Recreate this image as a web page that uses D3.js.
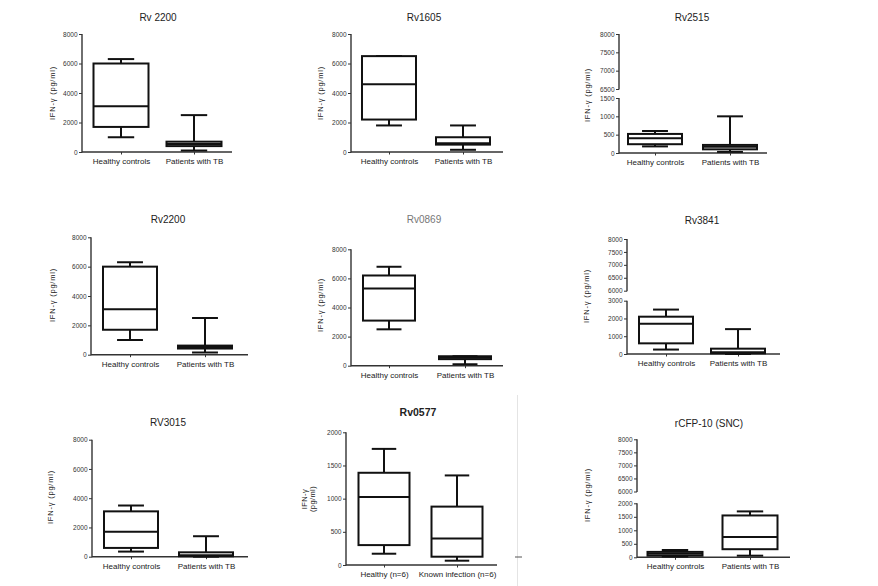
<!DOCTYPE html>
<html><head><meta charset="utf-8">
<script src="https://cdn.jsdelivr.net/npm/d3@7/dist/d3.min.js"></script>
<style>
body{margin:0;background:#fff}
svg{display:block}
text{font-family:Arial,"Liberation Sans",sans-serif;fill:#222}
</style>
</head><body><svg id="c" width="878" height="586"></svg>
<script>
// ---------- DATA ----------
const titles = ["Rv 2200","Rv1605","Rv2515","Rv2200","Rv0869","Rv3841","RV3015","Rv0577","rCFP-10 (SNC)"];
const groupsTB = ["Healthy controls","Patients with TB"];
const groupsRv0577 = ["Healthy (n=6)","Known infection (n=6)"];
const yLabel = "IFN-\u03b3 (pg/ml)";
const yLabelRv0577 = ["IFN-\u03b3","(pg/ml)"];

// box stats per group: [min, q1, median, q3, max]
const statsRv2200a = [[1000,1700,3100,6000,6300],[100,400,550,700,2500]];
const statsRv1605  = [[1800,2200,4600,6500,6500],[150,500,600,1000,1800]];
const statsRv2515  = [[180,240,400,520,600],[30,100,170,220,1000]];
const statsRv2200b = [[1000,1700,3100,6000,6300],[150,420,520,620,2500]];
const statsRv0869  = [[2500,3100,5300,6200,6800],[100,450,550,650,650]];
const statsRv3841  = [[250,600,1700,2100,2500],[0,40,100,300,1400]];
const statsRV3015  = [[350,600,1700,3100,3500],[0,30,100,300,1400]];
const statsRv0577  = [[170,300,1025,1390,1750],[65,125,400,880,1350]];
const statsCFP10   = [[30,60,130,200,270],[60,300,750,1550,1700]];

// y tick values
const ticks8000 = [0,2000,4000,6000,8000];
const ticks2000 = [0,500,1000,1500,2000];
const ticksRv2515 = [0,500,1000,1500,6500,7000,7500,8000];
const ticksRv3841 = [0,1000,2000,3000,6000,6500,7000,7500,8000];
const ticksCFP10 = [0,500,1000,1500,2000,6000,6500,7000,7500,8000];
// broken-axis domains [0, lowerTop, upperBottom, top]
const domainRv2515 = [0,1500,6500,8000];
const domainRv3841 = [0,3000,6000,8000];
const domainCFP10  = [0,2000,6000,8000];

// ---------- LAYOUT (positions only) ----------
const panels = [
  {title:titles[0], groups:groupsTB, stats:statsRv2200a, ticks:ticks8000, domain:[0,8000], range:[152,34],
   ax:82, xEnd:232, centers:[121,194], bw:55, tx:158, ty:21, lx:55, ly:93},
  {title:titles[1], groups:groupsTB, stats:statsRv1605, ticks:ticks8000, domain:[0,8000], range:[152,34],
   ax:351, xEnd:503, centers:[389,463], bw:54, tx:424, ty:21, lx:323, ly:93},
  {title:titles[2], groups:groupsTB, stats:statsRv2515, ticks:ticksRv2515, domain:domainRv2515, range:[153,98,89,34],
   ax:619, xEnd:767, centers:[655,730], bw:54, tx:692, ty:21, lx:590, ly:95},
  {title:titles[3], groups:groupsTB, stats:statsRv2200b, ticks:ticks8000, domain:[0,8000], range:[354.7,237.3],
   ax:91, xEnd:248, centers:[130,205], bw:54, tx:168, ty:223, lx:55, ly:295},
  {title:titles[4], groups:groupsTB, stats:statsRv0869, ticks:ticks8000, domain:[0,8000], range:[365.7,249.3],
   ax:351, xEnd:503, centers:[389,465], bw:52, tx:424, ty:223, lx:323, ly:305, titleColor:"#777"},
  {title:titles[5], groups:groupsTB, stats:statsRv3841, ticks:ticksRv3841, domain:domainRv3841, range:[354,300.7,290.7,239],
   ax:627, xEnd:780, centers:[666,738], bw:54, tx:702, ty:224, lx:589, ly:296},
  {title:titles[6], groups:groupsTB, stats:statsRV3015, ticks:ticks8000, domain:[0,8000], range:[556.7,439.7],
   ax:92, xEnd:248, centers:[131,206], bw:54, tx:168, ty:426, lx:53, ly:497},
  {title:titles[7], groups:groupsRv0577, stats:statsRv0577, ticks:ticks2000, domain:[0,2000], range:[565,432.3],
   ax:346, xEnd:497, centers:[384,457], bw:51, tx:418, ty:416, lx:310, ly:499, bold:true, twoLine:true},
  {title:titles[8], groups:groupsTB, stats:statsCFP10, ticks:ticksCFP10, domain:domainCFP10, range:[557.3,503.3,491.5,439.3],
   ax:637, xEnd:790, centers:[675,750], bw:55, tx:709, ty:427, lx:590, ly:495}
];

const svg = d3.select("#c");
svg.append("rect").attr("width",878).attr("height",586).attr("fill","#fff");

// faint separator seen in the reference
svg.append("line").attr("x1",517.5).attr("x2",517.5).attr("y1",395).attr("y2",586)
  .attr("stroke","#e4e4e4").attr("stroke-width",1);
svg.append("line").attr("x1",515).attr("x2",522).attr("y1",557).attr("y2",557)
  .attr("stroke","#555").attr("stroke-width",1);

function drawPanel(p){
  const g = svg.append("g");
  const y = d3.scaleLinear().domain(p.domain).range(p.range);
  const x = d3.scalePoint().domain(p.groups).range(p.centers);
  const axisColor = "#333";

  // title
  g.append("text").attr("x",p.tx).attr("y",p.ty).attr("text-anchor","middle")
    .style("font-size", p.bold ? "10.5px" : "10px")
    .style("font-weight", p.bold ? "bold" : "normal")
    .style("fill", p.titleColor || "#222")
    .text(p.title);

  // y axis ticks + labels
  const ya = g.append("g").attr("transform",`translate(${p.ax},0)`)
    .call(d3.axisLeft(y).tickValues(p.ticks).tickSize(3).tickPadding(1.5).tickFormat(d3.format("d")));
  ya.select(".domain").remove();
  ya.selectAll(".tick line").attr("stroke",axisColor).attr("stroke-width",1);
  ya.selectAll(".tick text").style("font-size","6.5px").style("fill","#333");

  // y axis line (segments for broken axes)
  const segs = p.domain.length === 4
    ? [[p.domain[0],p.domain[1]],[p.domain[2],p.domain[3]]]
    : [[p.domain[0],p.domain[1]]];
  segs.forEach(s=>{
    g.append("line").attr("x1",p.ax).attr("x2",p.ax).attr("y1",y(s[0])+0.5).attr("y2",y(s[1]))
      .attr("stroke",axisColor).attr("stroke-width",1.4);
  });

  // x axis line
  g.append("line").attr("x1",p.ax).attr("x2",p.xEnd).attr("y1",y(0)).attr("y2",y(0))
    .attr("stroke",axisColor).attr("stroke-width",1.4);
  const xa = g.append("g").attr("transform",`translate(0,${y(0)})`)
    .call(d3.axisBottom(x).tickSize(2.5).tickPadding(4));
  xa.select(".domain").remove();
  xa.selectAll(".tick line").attr("stroke",axisColor).attr("stroke-width",1);
  xa.selectAll(".tick text").style("font-size","8px").style("fill","#222");

  // y label
  const lab = g.append("text").attr("transform",`translate(${p.lx},${p.ly}) rotate(-90)`)
    .attr("text-anchor","middle").style("font-size","7.5px").style("letter-spacing","0.8px");
  if(p.twoLine){
    lab.style("letter-spacing","0.4px");
    lab.append("tspan").attr("x",0).attr("dy",-3).text(yLabelRv0577[0]);
    lab.append("tspan").attr("x",0).attr("dy",8).text(yLabelRv0577[1]);
  } else {
    lab.text(yLabel);
  }

  // boxes
  p.groups.forEach((grp,i)=>{
    const [mn,q1,md,q3,mx] = p.stats[i];
    const cx = x(grp), hw = p.bw/2, cw = p.bw*0.24;
    const bg = g.append("g").attr("stroke","#111").attr("stroke-width",2).attr("fill","none");
    // whiskers
    bg.append("line").attr("x1",cx).attr("x2",cx).attr("y1",y(q3)).attr("y2",y(mx));
    bg.append("line").attr("x1",cx).attr("x2",cx).attr("y1",y(q1)).attr("y2",y(mn));
    bg.append("line").attr("x1",cx-cw).attr("x2",cx+cw).attr("y1",y(mx)).attr("y2",y(mx));
    bg.append("line").attr("x1",cx-cw).attr("x2",cx+cw).attr("y1",y(mn)).attr("y2",y(mn));
    // box
    bg.append("rect").attr("x",cx-hw).attr("y",y(q3)).attr("width",p.bw).attr("height",Math.max(0.5,y(q1)-y(q3)))
      .attr("fill","#fff");
    bg.append("line").attr("x1",cx-hw).attr("x2",cx+hw).attr("y1",y(md)).attr("y2",y(md));
  });
}

panels.forEach(drawPanel);
</script>
</body></html>
